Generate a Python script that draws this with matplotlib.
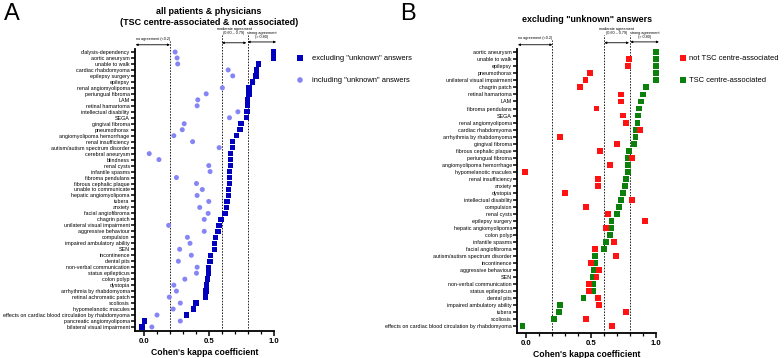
import numpy as np
import matplotlib
matplotlib.use('Agg')
import matplotlib.pyplot as plt
from matplotlib.ticker import MultipleLocator
import matplotlib.transforms as mtrans

plt.rcParams['font.family'] = ['Liberation Sans', 'DejaVu Sans']

# ---------------- data: panel A ----------------
cats_a = ["dialysis-dependency", "aortic aneurysm", "unable to walk", "cardiac rhabdomyoma",
          "epilepsy surgery", "epilepsy", "renal angiomyolipoma", "periungual fibroma", "LAM",
          "retinal hamartoma", "intellectual disability", "SEGA", "gingival fibroma",
          "pneumothorax", "angiomyolipoma hemorrhage", "renal insufficiency",
          "autism/autism spectrum disorder", "cerebral aneurysm", "blindness", "renal cysts",
          "infantile spasms", "fibroma pendulans", "fibrous cephalic plaque",
          "unable to communicate", "hepatic angiomyolipoma", "tubera", "anxiety",
          "facial angiofibroma", "chagrin patch", "unilateral visual impairment",
          "aggressive behaviour", "compulsion", "impaired ambulatory ability", "SEN",
          "incontinence", "dental pits", "non-verbal communication", "status epilepticus",
          "colon polyp", "dystopia", "arrhythmia by rhabdomyoma", "retinal achromatic patch",
          "scoliosis", "hypomelanotic macules",
          "effects on cardiac blood circulation by rhabdomyoma",
          "pancreatic angiomyolipoma", "bilateral visual impairment"]
excl_a = [1.0, 1.0, 0.885, 0.87, 0.865, 0.84, 0.81, 0.81, 0.80, 0.80, 0.795, 0.79,
          0.75, 0.74, 0.715, 0.685, 0.685, 0.67, 0.67, 0.67, 0.66, 0.66, 0.66, 0.65,
          0.65, 0.64, 0.635, 0.625, 0.595, 0.58, 0.57, 0.55, 0.545, 0.545, 0.515, 0.51,
          0.50, 0.50, 0.49, 0.48, 0.478, 0.475, 0.40, 0.38, 0.33, 0.005, -0.015]
incl_a = [0.24, 0.255, 0.26, 0.65, 0.685, 0.84, 0.605, 0.48, 0.415, 0.41, 0.725, 0.66,
          0.31, 0.295, 0.23, 0.375, 0.58, 0.04, 0.115, 0.50, 0.51, 0.25, 0.405, 0.45,
          0.41, 0.50, 0.43, 0.495, 0.465, 0.19, 0.465, 0.335, 0.355, 0.275, 0.365, 0.265,
          0.41, 0.405, 0.315, 0.23, 0.25, 0.195, 0.28, 0.225, 0.10, 0.28, 0.06]

# ---------------- data: panel B ----------------
cats_b = ["aortic aneurysm", "unable to walk", "epilepsy", "pneumothorax",
          "unilateral visual impairment", "chagrin patch", "retinal hamartoma", "LAM",
          "fibroma pendulans", "SEGA", "renal angiomyolipoma", "cardiac rhabdomyoma",
          "arrhythmia by rhabdomyoma", "gingival fibroma", "fibrous cephalic plaque",
          "periungual fibroma", "angiomyolipoma hemorrhage", "hypomelanotic macules",
          "renal insufficiency", "anxiety", "dystopia", "intellectual disability",
          "compulsion", "renal cysts", "epilepsy surgery", "hepatic angiomyolipoma",
          "colon polyp", "infantile spasms", "facial angiofibroma",
          "autism/autism spectrum disorder", "incontinence", "aggressive behaviour", "SEN",
          "non-verbal communication", "status epilepticus", "dental pits",
          "impaired ambulatory ability", "tubera", "scoliosis",
          "effects on cardiac blood circulation by rhabdomyoma"]
tsc_b = [1.0, 1.0, 1.0, 1.0, 1.0, 0.92, 0.895, 0.88, 0.865, 0.86, 0.855, 0.84, 0.84,
         0.83, 0.79, 0.785, 0.785, 0.78, 0.765, 0.76, 0.745, 0.725, 0.71, 0.70, 0.655,
         0.65, 0.645, 0.61, 0.60, 0.53, 0.525, 0.52, 0.51, 0.51, 0.51, 0.44, 0.26, 0.25,
         0.21, -0.03]
not_tsc_b = [np.nan, 0.79, 0.78, 0.49, 0.455, 0.41, 0.73, 0.73, 0.54, 0.745, 0.77, 0.875,
             0.26, 0.70, 0.57, 0.81, 0.645, -0.013, 0.55, 0.55, 0.295, 0.815, 0.46, 0.625,
             0.91, 0.61, np.nan, 0.675, 0.53, 0.69, 0.50, 0.56, 0.54, 0.48, 0.48, 0.55,
             0.56, 0.77, 0.46, 0.66]

xticks = [0.0, 0.5, 1.0]
xticklabels = ["0.0", "0.5", "1.0"]

W, H = 784, 358
fig = plt.figure(figsize=(W / 100, H / 100), dpi=100)


def px_axes(left, top, right, bottom):
    return fig.add_axes([left / W, 1 - bottom / H, (right - left) / W, (bottom - top) / H])


axA = px_axes(135, 49, 273.5, 331)
axB = px_axes(517.3, 49, 656.3, 333)

BLUE = '#0000BE'
LBLUE = '#8585F5'
RED = '#FF1212'
GREEN = '#0B800B'


def style(ax, cats, ylim):
    n = len(cats)
    ax.set_xlim(-0.07, 1.0)
    ax.set_ylim(*ylim)
    for s in ['top', 'right']:
        ax.spines[s].set_visible(False)
    for s in ['left', 'bottom']:
        ax.spines[s].set_linewidth(1.3)
    ax.set_yticks(range(n))
    ax.set_yticklabels(cats, fontsize=3.9)
    ax.tick_params(axis='y', length=2.6, width=1.1, pad=1.2)
    ax.set_xticks(xticks)
    ax.set_xticklabels(xticklabels, fontsize=5.6, fontweight='bold')
    ax.xaxis.set_minor_locator(MultipleLocator(0.1))
    ax.tick_params(axis='x', which='major', length=3.5, width=1.1, pad=1.5)
    ax.tick_params(axis='x', which='minor', length=2.2, width=0.9)
    ax.set_xlabel("Cohen's kappa coefficient", fontsize=6.2, fontweight='bold', labelpad=2)
    ax.patch.set_alpha(0)

    tr = mtrans.blended_transform_factory(ax.transData, ax.transAxes)
    # reference lines
    for xv, top in [(0.2, 1.03), (0.6, 1.05), (0.8, 1.05)]:
        ax.plot([xv, xv], [0, top], transform=tr, color='#222222', lw=0.7,
                ls=(0, (1.6, 1.4)), clip_on=False, zorder=1)
    # agreement arrows
    arrows = [(-0.065, 0.2, 1.015, "no agreement (<0.2)", 1.03),
              (0.6, 0.79, 1.022, "moderate agreement\n(0.60 \u2013 0.79)", 1.048),
              (0.8, 1.02, 1.025, "strong agreement\n(> 0.80)", 1.035)]
    for x0, x1, yf, txt, ty in arrows:
        ax.annotate('', xy=(x1, yf), xytext=(x0, yf), xycoords=('data', 'axes fraction'),
                    textcoords=('data', 'axes fraction'),
                    arrowprops=dict(arrowstyle='<|-|>', lw=0.6, color='k',
                                    mutation_scale=3, shrinkA=0, shrinkB=0),
                    annotation_clip=False)
        ax.text((x0 + x1) / 2, ty, txt, transform=tr, fontsize=2.7, ha='center',
                va='bottom', linespacing=1.1)


style(axA, cats_a, (46.67, -0.5))
style(axB, cats_b, (39.95, -0.47))

ya = np.arange(len(cats_a))
axA.scatter(incl_a, ya, s=13, marker='o', color=LBLUE, edgecolors='none', zorder=3,
            clip_on=False)
axA.scatter(excl_a, ya, s=15, marker='s', color=BLUE, edgecolors='none', zorder=4,
            clip_on=False)

yb = np.arange(len(cats_b))
axB.scatter(tsc_b, yb, s=18, marker='s', color=GREEN, edgecolors='none', zorder=3,
            clip_on=False)
axB.scatter(not_tsc_b, yb, s=18, marker='s', color=RED, edgecolors='none', zorder=4,
            clip_on=False)

# titles and panel letters
fig.text(209 / W, 1 - 7.5 / H, 'all patients & physicians\n(TSC centre-associated & not associated)',
         ha='center', va='top', fontsize=6.5, fontweight='bold', linespacing=1.2)
fig.text(587 / W, 1 - 20 / H, 'excluding "unknown" answers', ha='center', va='center',
         fontsize=6.4, fontweight='bold')
fig.text(4 / W, 1 - 3 / H, 'A', ha='left', va='top', fontsize=17)
fig.text(400 / W, 1 - 3 / H, 'B', ha='left', va='top', fontsize=17)

# legends (overlay in pixel coordinates)
ov = fig.add_axes([0, 0, 1, 1])
ov.set_xlim(0, W)
ov.set_ylim(H, 0)
ov.axis('off')
ov.patch.set_alpha(0)
leg = [(300, 58, 's', BLUE, 'excluding "unknown" answers', 12),
       (300, 80, 'o', LBLUE, 'including "unknown" answers', 12),
       (683, 58, 's', RED, 'not TSC centre-associated', 6),
       (683, 80, 's', GREEN, 'TSC centre-associated', 6)]
for x, y, m, c, t, gap in leg:
    ov.scatter([x], [y], s=16, marker=m, color=c, edgecolors='none')
    ov.text(x + gap, y, t, fontsize=5.4, va='center', ha='left')

fig.savefig('out.png', dpi=100)
